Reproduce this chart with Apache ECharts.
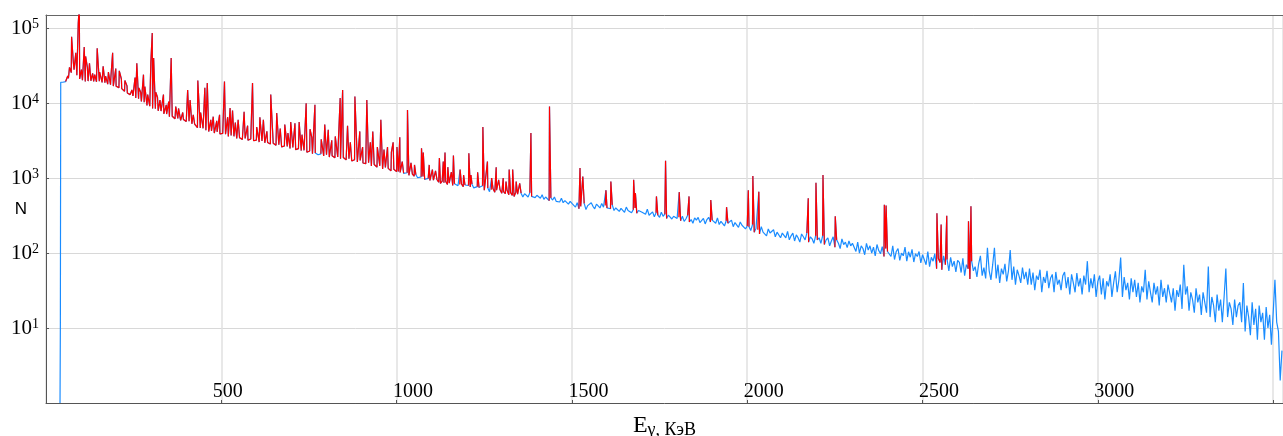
<!DOCTYPE html>
<html>
<head>
<meta charset="utf-8">
<script src="https://cdn.jsdelivr.net/npm/echarts@6/dist/echarts.min.js"></script>
<style>
  html, body { margin: 0; padding: 0; background: #fff; }
  #chart { width: 1283px; height: 436px; }
</style>
</head>
<body>
<div id="chart"></div>
<script>
// Low-energy channels: 8 keV bins from 48 to 1000 keV
const lowStart = 48;
const lowStep = 8;
const lowCounts = [
  19000,19400,21500,25500,28000,23500,21000,20300,19400,19700,19900,19500,19300,19600,18900,18700,17900,17600,16900,16800,16100,15600,14400,13700,13000,
  12500,11700,11500,10500,10300,9300,9100,8500,8450,7900,7850,7200,7150,6600,6700,6200,6250,5900,6050,5700,5750,5300,5250,4700,4650,
  4620,4350,4180,4260,3990,4150,3880,3950,3860,3600,3720,3610,3380,3450,3290,3390,3210,3320,3150,3220,3030,3140,2960,2990,2860,
  2920,2740,2790,2610,2680,2650,2490,2560,2400,2470,2330,2350,2210,2300,2120,2160,2050,2110,1980,2060,1910,1990,1870,1920,1820,
  1880,1750,1810,1690,1760,1640,1720,1590,1560,1600,1450,1520,1400,1460,1320,1390,1350,1250,1310,1220
];

// High-energy channels: 5 keV bins from 1005 to 3525 keV (one row per 100 keV)
const highStart = 1005;
const highStep = 5;
const highCounts = [
  1230,1190,1250,1160,1120,1180,1090,1140,1130,1060,1110,1010,1070,1040,1050,960,1010,990,930,960,
  940,900,960,880,850,910,870,905,820,860,870,800,840,880,790,820,835,770,810,790,
  800,760,830,740,700,770,750,720,790,690,710,740,660,700,720,650,690,670,700,630,
  660,620,690,600,640,590,570,650,610,580,630,560,620,590,560,640,570,600,550,590,
  580,540,600,520,560,570,500,545,510,560,490,520,480,540,470,500,520,450,490,460,
  440,410,470,390,420,400,460,380,430,410,470,420,390,450,430,400,460,410,430,400,
  420,390,440,370,400,420,360,395,380,350,410,370,390,345,380,400,340,370,380,350,
  360,330,385,320,340,355,305,345,320,300,350,310,330,290,320,340,285,310,300,290,
  300,270,310,265,285,320,260,280,250,295,275,300,255,270,290,245,280,300,260,275,
  280,250,295,240,265,280,230,270,250,240,275,225,255,240,220,260,235,245,210,230,
  225,200,240,190,215,205,180,225,190,200,170,210,185,175,205,165,190,180,160,185,
  180,160,195,150,170,185,145,175,160,140,180,165,150,185,140,165,155,135,170,150,
  160,135,170,130,150,160,125,145,165,120,150,135,115,155,130,140,118,145,125,135,
  130,105,140,100,125,115,95,135,110,125,100,120,92,130,108,98,122,90,115,105,
  110,90,125,82,105,115,80,100,92,120,78,104,88,112,76,98,90,105,74,95,
  92,70,105,66,88,78,98,62,85,75,60,92,70,82,58,88,66,78,56,80,
  75,55,85,50,70,62,45,78,58,66,48,72,92,50,64,46,118,58,44,70,
  118,46,70,40,62,52,72,42,58,110,44,66,38,60,50,40,64,45,56,38,
  62,38,55,32,50,44,60,30,48,40,58,34,46,52,30,56,38,44,32,50,
  56,34,48,28,52,40,30,54,36,46,28,50,38,78,30,46,34,52,26,42,
  50,28,46,24,42,36,52,26,40,57,30,44,87,26,48,32,40,24,46,30,
  44,26,40,22,36,30,60,24,42,30,22,40,28,36,20,44,26,34,22,38,
  40,22,34,17,32,26,38,18,70,28,36,17,30,24,16,34,22,28,15,30,
  30,16,66,14,26,20,12,28,17,24,12,26,62,14,22,18,11,24,14,20,
  22,12,40,9,20,14,8,22,11,18,7,20,12,16,7,19,10,15,6,16,
  44,12,9,2,5
];

// Detector threshold at the low-energy end
const onsetE = [40, 41, 42];
const onsetN = [1, 12, 19000];

// Main photopeaks: energy (keV) and height (counts)
const peakE = [73,85,92,95,109,113,124,146,163,178,190,199,209,225,254,259,278,282,299,303,
  307,325,335,357,404,411,433,453,460,477,509,525,532,565,589,620,641,658,698,710,
  722,742,767,805,839,846,881,915,932,974,1001,1009,1016,1031,1071,1076,1093,1122,1133,1138,
  1162,1206,1246,1259,1284,1304,1321,1331,1383,1436,1523,1531,1597,1611,1676,1681,1741,1767,1806,1834,
  1896,1899,1941,2003,2016,2033,2174,2196,2216,2251,2391,2396,2541,2553,2569,2631,2638];
const peakN = [77000,47000,117000,200000,56000,42000,34000,54000,31000,26000,47000,29000,27000,20000,22000,34000,24000,16600,35000,86000,
  40000,11000,13000,40000,15000,11000,20000,16000,18500,6600,19500,8600,8000,7700,18500,6000,13000,7400,5600,5400,
  5600,10000,9500,4400,11700,15000,12300,11000,4200,2600,2600,3500,1660,8100,2500,2200,1500,1850,1660,2200,
  2000,2150,4800,1660,1400,1000,1300,1300,4000,9000,1360,1050,690,900,950,630,570,1700,650,570,
  510,500,410,690,1070,660,540,870,1100,310,440,430,340,240,315,265,420];

// Weaker lines in the dense low-energy region
const minorPeakE = [62,67,78,101,118,133,139,153,170,185,215,231,245,265,270,290,313,318,343,350,
  370,378,390,420,441,470,487,495,518,540,548,575,601,610,630,668,681,690,730,753,
  758,785,795,815,825,860,868,895,903,925,945,955,964,985,990,1041,1051,1102,1111,1146,
  1156,1181,1191,1212,1231,1271,1291,1312,1341,1351];
const minorPeakN = [23000,30000,35000,28000,30000,25000,24000,26000,23000,22000,21000,17000,15000,16000,14000,13000,14000,12000,9500,10500,
  9000,8500,7500,7000,7500,6000,5800,7000,6500,5500,6000,5000,4800,6500,4200,4600,5200,4000,3800,4500,
  3500,3300,5200,3200,3600,5000,3000,4200,2600,3000,2600,6000,2400,2200,3000,1600,1500,1300,1250,1400,
  1200,1300,1100,1100,1200,1000,950,900,900,850];

// Axis ranges
const energyMax = 3528;
const energyStep = 500;
const countMin = 1;
const countMax = 150000;

// Whole spectrum sorted by energy
const points = [];
onsetE.forEach((e, i) => points.push({ e: e, n: onsetN[i], peak: false }));
lowCounts.forEach((n, i) => points.push({ e: lowStart + i * lowStep, n: n, peak: false }));
highCounts.forEach((n, i) => points.push({ e: highStart + i * highStep, n: n, peak: false }));
peakE.forEach((e, i) => points.push({ e: e, n: peakN[i], peak: true }));
minorPeakE.forEach((e, i) => points.push({ e: e, n: minorPeakN[i], peak: true }));
points.sort((a, b) => a.e - b.e);

const spectrum = points.map(p => [p.e, p.n]);

// Peak overlay: every peak with the channels on either side of it
const marked = new Array(points.length).fill(false);
points.forEach((p, j) => {
  if (p.peak) {
    marked[j] = true;
    if (j > 0) marked[j - 1] = true;
    if (j < points.length - 1) marked[j + 1] = true;
  }
});
const peaksOverlay = points.map((p, j) => marked[j] ? [p.e, p.n] : [p.e, '-']);

const serif = '"Liberation Serif", "DejaVu Serif", serif';

const chart = echarts.init(document.getElementById('chart'), null, { renderer: 'canvas' });
chart.setOption({
  animation: false,
  backgroundColor: '#ffffff',
  grid: { left: 46, right: 0, top: 15, bottom: 33, containLabel: false, outerBoundsMode: 'none' },
  xAxis: [{
    type: 'value',
    min: 0,
    max: energyMax,
    interval: energyStep,
    name: '{e|E}{s|γ, КэВ}',
    nameLocation: 'middle',
    nameGap: 10,
    nameMoveOverlap: false,
    nameTextStyle: {
      color: '#000',
      rich: {
        e: { fontFamily: serif, fontSize: 24, color: '#000', lineHeight: 26, verticalAlign: 'middle' },
        s: { fontFamily: serif, fontSize: 18, color: '#000', lineHeight: 18, verticalAlign: 'bottom' }
      }
    },
    axisLine: { show: true, onZero: false, lineStyle: { color: '#555', width: 1 } },
    axisTick: { show: true, inside: true, length: 3, lineStyle: { color: '#555' } },
    axisLabel: {
      inside: true,
      margin: 1,
      color: '#000',
      fontFamily: serif,
      fontSize: 20,
      formatter: v => {
        if (v <= 0 || v >= 3500) return '';
        return v < 1000 ? '{a|' + v + '}' : '{b|' + v + '}';
      },
      rich: {
        a: { fontFamily: serif, fontSize: 20, color: '#000', padding: [0, 0, 0, 13] },
        b: { fontFamily: serif, fontSize: 20, color: '#000', padding: [0, 0, 0, 33] }
      }
    },
    splitLine: { show: true, lineStyle: { color: '#e1e1e1', width: 1.5 } }
  }, {
    type: 'value',
    position: 'top',
    min: 0,
    max: energyMax,
    axisLine: { show: true, lineStyle: { color: '#666', width: 1 } },
    axisTick: { show: false },
    axisLabel: { show: false },
    splitLine: { show: false }
  }],
  yAxis: {
    type: 'log',
    logBase: 10,
    min: countMin,
    max: countMax,
    name: 'N',
    nameLocation: 'middle',
    nameRotate: 0,
    nameGap: 19,
    nameMoveOverlap: false,
    nameTextStyle: { fontFamily: '"Liberation Sans", Arial, sans-serif', fontSize: 17, color: '#000' },
    axisLine: { show: true, lineStyle: { color: '#555', width: 1 } },
    axisTick: { show: true, inside: true, length: 3, lineStyle: { color: '#555' } },
    axisLabel: {
      margin: 7,
      color: '#000',
      formatter: v => {
        const p = Math.round(Math.log10(v));
        if (p <= 0) return '';
        return '{b|10}{s|' + p + '}';
      },
      rich: {
        b: { fontFamily: serif, fontSize: 21, color: '#000', lineHeight: 22, verticalAlign: 'middle' },
        s: { fontFamily: serif, fontSize: 14, color: '#000', lineHeight: 13, verticalAlign: 'top' }
      }
    },
    splitLine: { show: true, lineStyle: { color: '#d8d8d8', width: 1 } }
  },
  series: [{
    name: 'spectrum',
    type: 'line',
    data: spectrum,
    showSymbol: false,
    symbol: 'none',
    sampling: null,
    lineStyle: { color: '#1a8cff', width: 1.2 },
    z: 2
  }, {
    name: 'peaks',
    type: 'line',
    data: peaksOverlay,
    showSymbol: false,
    symbol: 'none',
    connectNulls: false,
    lineStyle: { color: '#ff0000', width: 1.2 },
    z: 3
  }]
});
</script>
</body>
</html>
